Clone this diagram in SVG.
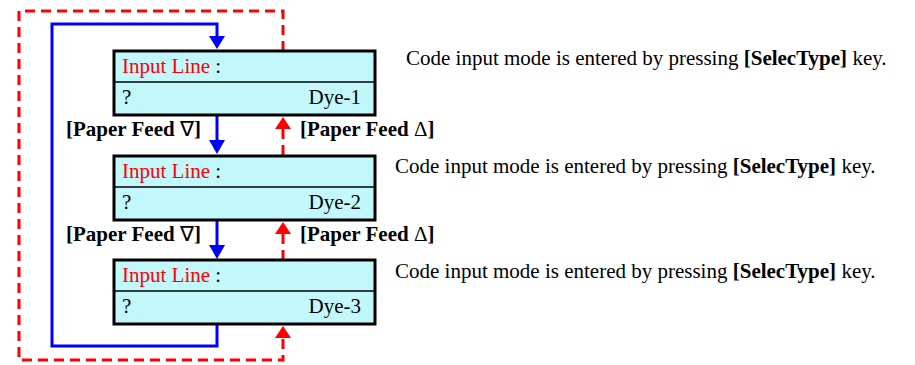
<svg xmlns="http://www.w3.org/2000/svg" width="915" height="365" viewBox="0 0 915 365">
<style>
.box{fill:#C2F8FC;stroke:#000;stroke-width:3}
.div{stroke:#000;stroke-width:1.5}
.t{font-family:"Liberation Serif","Times New Roman",serif;font-size:21px;fill:#000}
.red{fill:#FF0000}
.b{font-weight:bold}
.n{font-weight:normal}
.blue{fill:none;stroke:#0000FF;stroke-width:3}
.dash{fill:none;stroke:#FF0000;stroke-width:3;stroke-dasharray:10 6}
.ah-b{fill:#0000FF}
.ah-r{fill:#FF0000}
</style>
<rect width="915" height="365" fill="#fff"/>
<g id="connectors">
  <path class="dash" d="M283,51 V11 H19 V360 H283 V336"/>
  <path class="dash" d="M283,155 V128"/>
  <path class="dash" d="M283,260 V233"/>
  <path class="blue" d="M217,37 V24 H52 V346 H217 V324"/>
  <path class="blue" d="M217,115 V141"/>
  <path class="blue" d="M217,220 V246"/>
  <polygon class="ah-b" points="209,36 225,36 217,49"/>
  <polygon class="ah-b" points="209,140 225,140 217,154"/>
  <polygon class="ah-b" points="209,245 225,245 217,259"/>
  <polygon class="ah-r" points="275,129 291,129 283,117"/>
  <polygon class="ah-r" points="275,234 291,234 283,222"/>
  <polygon class="ah-r" points="275,338 291,338 283,326"/>
  <text class="t b" x="66" y="136">[Paper Feed <tspan class="n">∇</tspan>]</text>
  <text class="t b" x="300" y="136">[Paper Feed <tspan class="n">Δ</tspan>]</text>
  <text class="t b" x="66" y="241">[Paper Feed <tspan class="n">∇</tspan>]</text>
  <text class="t b" x="300" y="241">[Paper Feed <tspan class="n">Δ</tspan>]</text>
</g>
<g id="node1">
  <rect class="box" x="114" y="51" width="261" height="64"/>
  <line class="div" x1="114" y1="82" x2="375" y2="82"/>
  <text class="t" x="122" y="73"><tspan class="red">Input Line</tspan> :</text>
  <text class="t" x="122" y="104">?</text>
  <text class="t" x="361" y="104" text-anchor="end">Dye-1</text>
  <text class="t" x="406" y="65">Code input mode is entered by pressing <tspan class="b">[SelecType]</tspan> key.</text>
</g>
<g id="node2">
  <rect class="box" x="114" y="156" width="261" height="64"/>
  <line class="div" x1="114" y1="187" x2="375" y2="187"/>
  <text class="t" x="122" y="178"><tspan class="red">Input Line</tspan> :</text>
  <text class="t" x="122" y="209">?</text>
  <text class="t" x="361" y="209" text-anchor="end">Dye-2</text>
  <text class="t" x="395" y="173">Code input mode is entered by pressing <tspan class="b">[SelecType]</tspan> key.</text>
</g>
<g id="node3">
  <rect class="box" x="114" y="260" width="261" height="64"/>
  <line class="div" x1="114" y1="291" x2="375" y2="291"/>
  <text class="t" x="122" y="282"><tspan class="red">Input Line</tspan> :</text>
  <text class="t" x="122" y="313">?</text>
  <text class="t" x="361" y="313" text-anchor="end">Dye-3</text>
  <text class="t" x="395" y="278">Code input mode is entered by pressing <tspan class="b">[SelecType]</tspan> key.</text>
</g>
</svg>
